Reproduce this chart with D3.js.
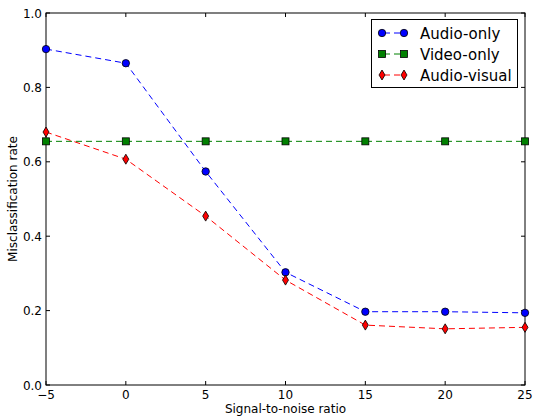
<!DOCTYPE html>
<html>
<head>
<meta charset="utf-8">
<script src="https://cdn.jsdelivr.net/npm/d3@7"></script>
<style>
  body { margin: 0; background: #fff; }
  text { font-family: "DejaVu Sans", sans-serif; }
</style>
</head>
<body>
<div id="chart"></div>
<script>
// data
let snr = [-5, 0, 5, 10, 15, 20, 25];
let audioOnly = [0.903, 0.865, 0.574, 0.303, 0.197, 0.197, 0.194];
let videoOnly = [0.655, 0.655, 0.655, 0.655, 0.655, 0.655, 0.655];
let audioVisual = [0.680, 0.607, 0.454, 0.282, 0.161, 0.151, 0.155];
let xTicks = [-5, 0, 5, 10, 15, 20, 25];
let yTicks = [0, 0.2, 0.4, 0.6, 0.8, 1.0];

let series = [
    {name: "Audio-only", values: audioOnly, color: "#0000ff", marker: "circle"},
    {name: "Video-only", values: videoOnly, color: "#008000", marker: "square"},
    {name: "Audio-visual", values: audioVisual, color: "#ff0000", marker: "diamond"}
];

let width = 535, height = 417;
let margin = {top: 13, right: 10, bottom: 32, left: 46};

let svg = d3.select("#chart").append("svg")
    .attr("width", width)
    .attr("height", height);

let x = d3.scaleLinear().domain([-5, 25]).range([margin.left, width - margin.right]);
let y = d3.scaleLinear().domain([0, 1]).range([height - margin.bottom, margin.top]);

// frame
svg.append("rect")
    .attr("x", x(-5)).attr("y", y(1))
    .attr("width", x(25) - x(-5)).attr("height", y(0) - y(1))
    .attr("fill", "none").attr("stroke", "#000").attr("stroke-width", 1);

// ticks pointing inward on all four sides
let tickLen = 4;
let xAxis = svg.append("g");
xTicks.forEach(t => {
    xAxis.append("line").attr("x1", x(t)).attr("x2", x(t))
        .attr("y1", y(0)).attr("y2", y(0) - tickLen).attr("stroke", "#000");
    xAxis.append("line").attr("x1", x(t)).attr("x2", x(t))
        .attr("y1", y(1)).attr("y2", y(1) + tickLen).attr("stroke", "#000");
    xAxis.append("text")
        .attr("x", x(t)).attr("y", y(0) + 13.5)
        .attr("text-anchor", "middle")
        .style("font-size", "12px")
        .text(t < 0 ? "\u2212" + Math.abs(t) : t);
});

let yAxis = svg.append("g");
yTicks.forEach(t => {
    yAxis.append("line").attr("x1", x(-5)).attr("x2", x(-5) + tickLen)
        .attr("y1", y(t)).attr("y2", y(t)).attr("stroke", "#000");
    yAxis.append("line").attr("x1", x(25)).attr("x2", x(25) - tickLen)
        .attr("y1", y(t)).attr("y2", y(t)).attr("stroke", "#000");
    yAxis.append("text")
        .attr("x", x(-5) - 4).attr("y", y(t) + 4.5)
        .attr("text-anchor", "end")
        .style("font-size", "12px")
        .text(d3.format(".1f")(t));
});

// axis labels
svg.append("text")
    .attr("x", (x(-5) + x(25)) / 2).attr("y", 413)
    .attr("text-anchor", "middle")
    .style("font-size", "12px")
    .text("Signal-to-noise ratio");

svg.append("text")
    .attr("transform", `translate(17, ${(y(0) + y(1)) / 2}) rotate(-90)`)
    .attr("text-anchor", "middle")
    .style("font-size", "12px")
    .text("Misclassification rate");

// marker helper
function drawMarker(g, type, cx, cy, color) {
    if (type === "circle") {
        g.append("circle").attr("cx", cx).attr("cy", cy).attr("r", 3.7)
            .attr("fill", color).attr("stroke", "#000").attr("stroke-width", 0.8);
    } else if (type === "square") {
        g.append("rect").attr("x", cx - 3.5).attr("y", cy - 3.5)
            .attr("width", 7).attr("height", 7)
            .attr("fill", color).attr("stroke", "#000").attr("stroke-width", 0.8);
    } else {
        g.append("path")
            .attr("d", `M${cx},${cy - 5}L${cx + 3},${cy}L${cx},${cy + 5}L${cx - 3},${cy}Z`)
            .attr("fill", color).attr("stroke", "#000").attr("stroke-width", 0.8);
    }
}

let line = d3.line()
    .x((d, i) => x(snr[i]))
    .y(d => y(d));

let plot = svg.append("g");
series.forEach(s => {
    plot.append("path")
        .datum(s.values)
        .attr("d", line)
        .attr("fill", "none")
        .attr("stroke", s.color)
        .attr("stroke-width", 1)
        .attr("stroke-dasharray", "6,4");
});
series.forEach(s => {
    s.values.forEach((v, i) => drawMarker(plot, s.marker, x(snr[i]), y(v), s.color));
});

// legend
let legend = svg.append("g");
legend.append("rect")
    .attr("x", 371.5).attr("y", 19.5)
    .attr("width", 146).attr("height", 68)
    .attr("fill", "#fff").attr("stroke", "#000").attr("stroke-width", 1);

series.forEach((s, i) => {
    let ly = 33 + i * 21;
    legend.append("line")
        .attr("x1", 382).attr("x2", 404)
        .attr("y1", ly).attr("y2", ly)
        .attr("stroke", s.color).attr("stroke-dasharray", "6,4").attr("stroke-dashoffset", -2);
    drawMarker(legend, s.marker, 382, ly, s.color);
    drawMarker(legend, s.marker, 404, ly, s.color);
    legend.append("text")
        .attr("x", 420).attr("y", ly + 5.5)
        .style("font-size", "15px")
        .text(s.name);
});
</script>
</body>
</html>
